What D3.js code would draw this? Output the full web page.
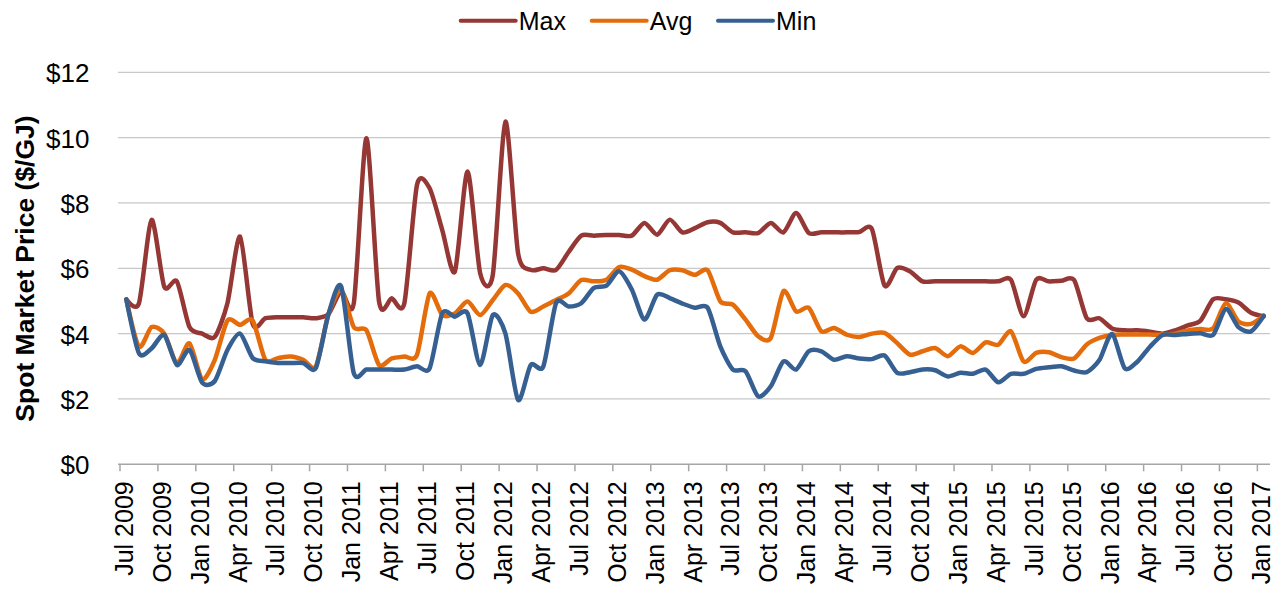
<!DOCTYPE html>
<html>
<head>
<meta charset="utf-8">
<script src="https://cdn.jsdelivr.net/npm/d3@7"></script>
<style>
  html, body { margin: 0; padding: 0; background: #fff; }
  text { font-family: Arial, "Liberation Sans", sans-serif; fill: #000; }
</style>
</head>
<body>
<svg id="chart" width="1285" height="589"></svg>
<script>
//--数据--
// monthly categories Jul 2009 .. Jan 2017
var months = d3.timeMonth.range(new Date(2009, 6, 1), new Date(2017, 1, 1));

var tickLabels = [
  "Jul 2009", "Oct 2009", "Jan 2010", "Apr 2010", "Jul 2010", "Oct 2010",
  "Jan 2011", "Apr 2011", "Jul 2011", "Oct 2011", "Jan 2012", "Apr 2012",
  "Jul 2012", "Oct 2012", "Jan 2013", "Apr 2013", "Jul 2013", "Oct 2013",
  "Jan 2014", "Apr 2014", "Jul 2014", "Oct 2014", "Jan 2015", "Apr 2015",
  "Jul 2015", "Oct 2015", "Jan 2016", "Apr 2016", "Jul 2016", "Oct 2016",
  "Jan 2017"
];

var yTicks = [0, 2, 4, 6, 8, 10, 12];

var maxPrice = [
  5.05, 4.93, 7.48, 5.44, 5.6, 4.2, 4.0, 3.9, 4.93, 6.97,
  4.3, 4.47, 4.5, 4.5, 4.5, 4.47, 4.6, 5.3, 4.93, 9.98,
  4.98, 5.08, 4.93, 8.55, 8.45, 7.17, 5.9, 8.96, 5.85, 5.8,
  10.49, 6.46, 5.95, 6.0, 5.95, 6.5, 7.0, 7.0, 7.02, 7.02,
  7.0, 7.39, 7.03, 7.49, 7.1, 7.23, 7.41, 7.39, 7.1, 7.1,
  7.08, 7.39, 7.1, 7.69, 7.08, 7.1, 7.1, 7.1, 7.11, 7.2,
  5.47, 6.01, 5.91, 5.6, 5.6, 5.6, 5.6, 5.6, 5.6, 5.6,
  5.65, 4.53, 5.65, 5.6, 5.62, 5.64, 4.47, 4.47, 4.16, 4.1,
  4.1, 4.06, 4.0, 4.1, 4.25, 4.4, 5.05, 5.05, 4.95, 4.64,
  4.53
];

var avgPrice = [
  5.05, 3.6, 4.2, 4.0, 3.1, 3.7, 2.6, 3.2, 4.4, 4.27,
  4.4, 3.2, 3.25, 3.3, 3.2, 3.0, 4.6, 5.33, 4.2, 4.1,
  3.04, 3.24, 3.3, 3.35, 5.23, 4.57, 4.62, 4.98, 4.57, 5.03,
  5.49, 5.23, 4.67, 4.83, 5.03, 5.23, 5.64, 5.6, 5.65, 6.04,
  5.96, 5.76, 5.65, 5.94, 5.94, 5.8, 5.94, 4.99, 4.89, 4.43,
  3.92, 3.87, 5.3, 4.68, 4.79, 4.07, 4.17, 3.97, 3.9, 4.0,
  4.02, 3.71, 3.36, 3.46, 3.56, 3.31, 3.61, 3.41, 3.73, 3.66,
  4.07, 3.15, 3.41, 3.43, 3.28, 3.24, 3.67, 3.87, 3.96, 3.97,
  3.97, 3.97, 3.97, 4.0, 4.1, 4.14, 4.16, 4.93, 4.37, 4.3,
  4.55
];

var minPrice = [
  5.05, 3.4, 3.55, 3.96, 3.04, 3.5, 2.5, 2.55, 3.5, 4.0,
  3.25, 3.15, 3.1, 3.1, 3.1, 2.95, 4.6, 5.45, 2.79, 2.9,
  2.9, 2.9, 2.9, 3.0, 2.94, 4.62, 4.52, 4.62, 3.04, 4.57,
  4.0, 1.97, 3.04, 3.0, 4.93, 4.83, 4.93, 5.4, 5.47, 5.91,
  5.35, 4.43, 5.19, 5.09, 4.92, 4.79, 4.79, 3.61, 2.9, 2.85,
  2.08, 2.39, 3.15, 2.9, 3.46, 3.46, 3.2, 3.31, 3.24, 3.22,
  3.33, 2.8, 2.82, 2.9, 2.88, 2.69, 2.8, 2.77, 2.9, 2.51,
  2.77, 2.77, 2.92, 2.97, 3.0, 2.87, 2.82, 3.19, 3.99, 2.94,
  3.14, 3.6, 3.96, 3.96, 3.99, 4.01, 3.96, 4.75, 4.2, 4.07,
  4.54
];

var series = [
  { name: "Max", values: maxPrice, color: "#953735" },
  { name: "Avg", values: avgPrice, color: "#E46C0A" },
  { name: "Min", values: minPrice, color: "#376092" }
];

//--比例尺--
var svg = d3.select("#chart");
var plotLeft = 120, plotRight = 1270, plotTop = 72.3, plotBottom = 464.3;

var x = d3.scaleBand()
  .domain(d3.range(months.length))
  .range([plotLeft, plotRight])
  .paddingInner(0)
  .paddingOuter(0);

var y = d3.scaleLinear().domain([0, 12]).range([plotBottom, plotTop]);

var xc = function (i) { return x(i) + x.bandwidth() / 2; };

//--网格线--
svg.append("g")
  .selectAll("line")
  .data(yTicks.filter(function (d) { return d > 0; }))
  .join("line")
  .attr("x1", plotLeft - 2)
  .attr("x2", plotRight)
  .attr("y1", function (d) { return y(d); })
  .attr("y2", function (d) { return y(d); })
  .attr("stroke", "#c8c8c8")
  .attr("stroke-width", 1.3);

//--y轴--
var yAxis = svg.append("g")
  .attr("transform", "translate(89.5,0)")
  .call(d3.axisLeft(y).tickValues(yTicks).tickSize(0).tickPadding(0)
    .tickFormat(function (d) { return "$" + d; }));
yAxis.select(".domain").remove();
yAxis.selectAll("text")
  .attr("fill", "#000")
  .style("font-size", "26px")
  .style("font-family", "Arial, 'Liberation Sans', sans-serif")
  .attr("dy", "0.37em");

svg.append("text")
  .attr("transform", "translate(33.5,268.5) rotate(-90)")
  .attr("text-anchor", "middle")
  .style("font-size", "26.5px")
  .style("font-weight", "bold")
  .text("Spot Market Price ($/GJ)");

//--x轴--
var tickIdx = d3.range(0, months.length, 3);

svg.append("line")
  .attr("x1", plotLeft - 2).attr("x2", plotRight)
  .attr("y1", plotBottom).attr("y2", plotBottom)
  .attr("stroke", "#a6a6a6").attr("stroke-width", 1.5);

svg.append("g")
  .selectAll("line")
  .data(tickIdx)
  .join("line")
  .attr("x1", function (i) { return x(i); })
  .attr("x2", function (i) { return x(i); })
  .attr("y1", plotBottom)
  .attr("y2", plotBottom + 7)
  .attr("stroke", "#a6a6a6")
  .attr("stroke-width", 1.5);

svg.append("g")
  .selectAll("text")
  .data(tickIdx)
  .join("text")
  .attr("transform", function (i) {
    return "translate(" + (xc(i) - 2) + "," + (plotBottom + 17) + ") rotate(-90)";
  })
  .attr("text-anchor", "end")
  .attr("dy", "0.34em")
  .style("font-size", "25px")
  .text(function (i, k) { return tickLabels[k]; });

//--折线--
var line = d3.line()
  .x(function (d, i) { return xc(i); })
  .y(function (d) { return y(d); })
  .curve(d3.curveCardinal.tension(0.25));

svg.append("g")
  .selectAll("path")
  .data(series)
  .join("path")
  .attr("d", function (s) { return line(s.values); })
  .attr("fill", "none")
  .attr("stroke", function (s) { return s.color; })
  .attr("stroke-width", 4.5)
  .attr("stroke-linejoin", "round")
  .attr("stroke-linecap", "round");

//--图例--
var legendPos = [460.7, 591.7, 718];
var legend = svg.append("g")
  .selectAll("g")
  .data(series)
  .join("g")
  .attr("transform", function (s, k) { return "translate(" + legendPos[k] + ",20.7)"; });

legend.append("line")
  .attr("x1", 0).attr("x2", 55)
  .attr("stroke", function (s) { return s.color; })
  .attr("stroke-width", 4)
  .attr("stroke-linecap", "round");

legend.append("text")
  .attr("x", 58)
  .attr("y", 8.8)
  .style("font-size", "25px")
  .text(function (s) { return s.name; });
</script>
</body>
</html>
